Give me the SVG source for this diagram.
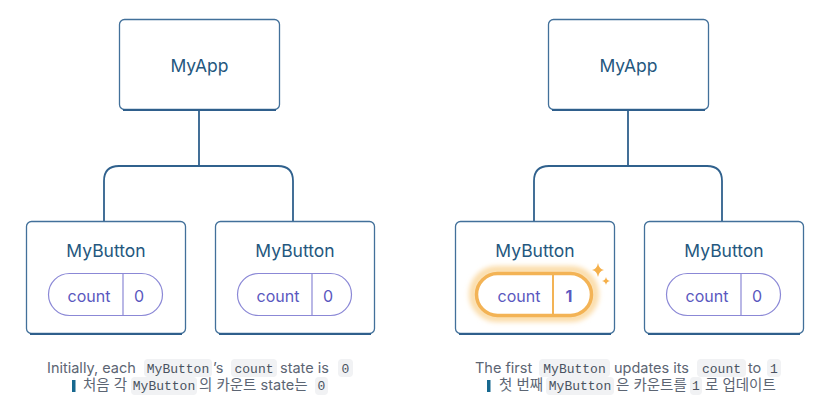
<svg xmlns="http://www.w3.org/2000/svg" width="835" height="418" viewBox="0 0 835 418">
<defs>
<style>
.box{fill:#fff;stroke:#42709a;stroke-width:1.3}
.shadow{fill:none;stroke:#2f5f8c;stroke-width:2.2}
.conn{fill:none;stroke:#30618d;stroke-width:1.8}
.title{font-family:Inter,"Noto Sans",sans-serif;font-size:17.5px;fill:#24577e;text-anchor:middle}
.pill{fill:#fff;stroke:#8b88d6;stroke-width:1.2}
.ptxt{font-family:Inter,"Noto Sans",sans-serif;font-size:16px;fill:#5a58c0;text-anchor:middle}
.cap{font-family:Inter,"Noto Sans","Noto Sans CJK KR",sans-serif;font-size:14.5px;fill:#5c6573}
.code{font-family:"Liberation Mono","DejaVu Sans Mono",monospace;font-size:13px;fill:#4a5260;text-anchor:middle}
.cbg{fill:#f1f2f4}
.bar{fill:#17688f}
</style>
<filter id="glow" x="-20%" y="-40%" width="140%" height="180%"><feGaussianBlur stdDeviation="2.5"/></filter>
</defs>

<g id="connectors">
<path class="conn" d="M199 110 V166 M104 221 V181 Q104 166 119 166 H278 Q293 166 293 181 V221"/>
<path class="conn" d="M628 110 V166 M534 221 V181 Q534 166 549 166 H707 Q722 166 722 181 V221"/>
</g>

<g id="myapp-left">
<rect class="box" x="119.5" y="19.5" width="160" height="90" rx="5"/>
<path class="shadow" d="M123 110 H276"/>
<text class="title" x="199.5" y="72">MyApp</text>
</g>

<g id="mybutton-left-1">
<rect class="box" x="26.5" y="221.5" width="159" height="112" rx="5"/>
<path class="shadow" d="M30 334 H182"/>
<text class="title" x="106" y="257">MyButton</text>
<rect class="pill" x="48.5" y="273.5" width="114" height="42" rx="21"/>
<path d="M123 274 V315" stroke="#8b88d6" stroke-width="1.2"/>
<text class="ptxt" x="89" y="302">count</text>
<text class="ptxt" x="139" y="302">0</text>
</g>

<g id="mybutton-left-2">
<rect class="box" x="215.5" y="221.5" width="159" height="112" rx="5"/>
<path class="shadow" d="M219 334 H371"/>
<text class="title" x="295" y="257">MyButton</text>
<rect class="pill" x="237.5" y="273.5" width="114" height="42" rx="21"/>
<path d="M312 274 V315" stroke="#8b88d6" stroke-width="1.2"/>
<text class="ptxt" x="278" y="302">count</text>
<text class="ptxt" x="328" y="302">0</text>
</g>

<g id="myapp-right">
<rect class="box" x="548.5" y="19.5" width="160" height="90" rx="5"/>
<path class="shadow" d="M552 110 H705"/>
<text class="title" x="628.5" y="72">MyApp</text>
</g>

<g id="mybutton-right-1">
<rect class="box" x="455.5" y="221.5" width="159" height="112" rx="5"/>
<path class="shadow" d="M459 334 H611"/>
<text class="title" x="535" y="257">MyButton</text>
<rect x="473" y="270" width="122" height="48" rx="24" fill="none" stroke="#fbdca8" stroke-width="8" filter="url(#glow)"/>
<rect x="476.5" y="273.5" width="115" height="42" rx="21" fill="#fff" stroke="#f3b355" stroke-width="3.5"/>
<path d="M553 275 V314" stroke="#f3b355" stroke-width="2"/>
<text class="ptxt" x="519" y="302">count</text>
<text class="ptxt" x="569" y="302" font-weight="bold" fill="#4c4ab0">1</text>
<path d="M598 263 Q599 269 604 270 Q599 271 598 277 Q597 271 592 270 Q597 269 598 263 Z" fill="#f5b04a"/>
<path d="M606 277 Q606.6 280.4 610 281 Q606.6 281.6 606 285 Q605.4 281.6 602 281 Q605.4 280.4 606 277 Z" fill="#f5b04a"/>
</g>

<g id="mybutton-right-2">
<rect class="box" x="644.5" y="221.5" width="159" height="112" rx="5"/>
<path class="shadow" d="M648 334 H800"/>
<text class="title" x="724" y="257">MyButton</text>
<rect class="pill" x="666.5" y="273.5" width="114" height="42" rx="21"/>
<path d="M741 274 V315" stroke="#8b88d6" stroke-width="1.2"/>
<text class="ptxt" x="707" y="302">count</text>
<text class="ptxt" x="757" y="302">0</text>
</g>

<g id="caption-left">
<rect class="cbg" x="144" y="359" width="68" height="18" rx="4"/>
<rect class="cbg" x="231" y="359" width="46" height="18" rx="4"/>
<rect class="cbg" x="338" y="359" width="15" height="18" rx="4"/>
<text class="cap" x="47" y="373">Initially, each</text>
<text class="code" x="178" y="373">MyButton</text>
<text class="cap" x="213" y="373">’s</text>
<text class="code" x="254" y="373">count</text>
<text class="cap" x="280" y="373">state is</text>
<text class="code" x="345.5" y="373">0</text>
<rect class="bar" x="72" y="380" width="3.5" height="12"/>
<rect class="cbg" x="131" y="377" width="66" height="18" rx="4"/>
<rect class="cbg" x="315" y="377" width="13" height="18" rx="4"/>
<text class="cap" x="83" y="390">처음 각</text>
<text class="code" x="164" y="390">MyButton</text>
<text class="cap" x="199" y="390">의 카운트 state는</text>
<text class="code" x="321.5" y="390">0</text>
</g>

<g id="caption-right">
<rect class="cbg" x="539" y="359" width="71" height="18" rx="4"/>
<rect class="cbg" x="697" y="359" width="49" height="18" rx="4"/>
<rect class="cbg" x="767" y="359" width="14" height="18" rx="4"/>
<text class="cap" x="475" y="373">The first</text>
<text class="code" x="574.5" y="373">MyButton</text>
<text class="cap" x="614" y="373">updates its</text>
<text class="code" x="721.5" y="373">count</text>
<text class="cap" x="748" y="373">to</text>
<text class="code" x="774" y="373">1</text>
<rect class="bar" x="487" y="380" width="3.5" height="12"/>
<rect class="cbg" x="546" y="377" width="68" height="18" rx="4"/>
<rect class="cbg" x="690" y="377" width="12" height="18" rx="4"/>
<text class="cap" x="499" y="390">첫 번째</text>
<text class="code" x="580" y="390">MyButton</text>
<text class="cap" x="616" y="390">은 카운트를</text>
<text class="code" x="696" y="390">1</text>
<text class="cap" x="705" y="390">로 업데이트</text>
</g>
</svg>
